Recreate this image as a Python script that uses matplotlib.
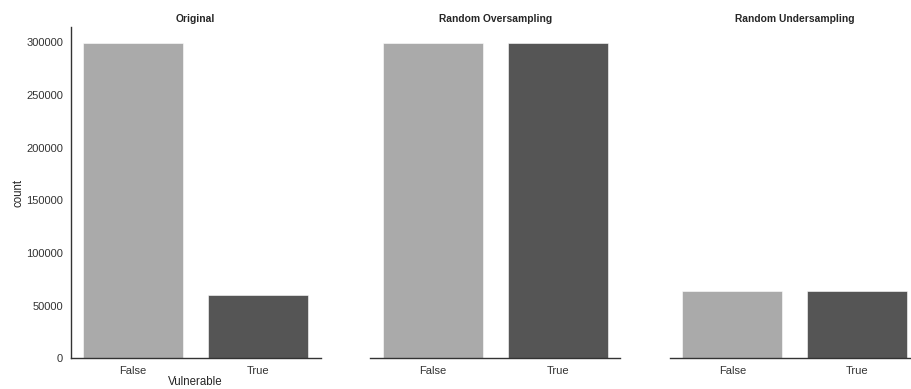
import matplotlib
matplotlib.use("Agg")
import matplotlib.pyplot as plt
import seaborn as sns

# counts per class
categories = ["False", "True"]
titles = ["Original", "Random Oversampling", "Random Undersampling"]
original_counts = [298800, 60500]
oversampled_counts = [298800, 298800]
undersampled_counts = [63600, 63600]
yticks = [0, 50000, 100000, 150000, 200000, 250000, 300000]

sns.set_style("white")
plt.rcParams['font.family'] = ['Liberation Sans', 'DejaVu Sans']

bar_colors = ["#aaaaaa", "#555555"]
text_col = "#262626"

fig = plt.figure(figsize=(9.12, 3.89), dpi=100)
lefts = [70.7 / 912, 370.2 / 912, 670.0 / 912]
bottom = 30.7 / 389
height = 331.6 / 389
width = 250 / 912

all_counts = [original_counts, oversampled_counts, undersampled_counts]
ymax = max(max(c) for c in all_counts) * 1.053

for i, (title, counts) in enumerate(zip(titles, all_counts)):
    ax = fig.add_axes([lefts[i], bottom, width, height])
    ax.bar(range(len(categories)), counts, width=0.8, color=bar_colors,
           edgecolor="white", linewidth=0.4)
    ax.set_xlim(-0.5, 1.5)
    ax.set_ylim(0, ymax)
    ax.set_xticks(range(len(categories)))
    ax.set_xticklabels(categories, fontsize=8, color="#333333")
    ax.set_title(title, fontsize=7.4, fontweight="bold", color=text_col, pad=3.5)
    ax.tick_params(axis="both", length=0, pad=5.5)
    for s in ["top", "right"]:
        ax.spines[s].set_visible(False)
    ax.spines["bottom"].set_color("#333333")
    ax.spines["bottom"].set_linewidth(1.0)
    if i == 0:
        ax.set_yticks(yticks)
        ax.set_yticklabels([str(t) for t in yticks], fontsize=8, color="#333333")
        ax.set_ylabel("count", fontsize=8.3, color=text_col, labelpad=1.5)
        ax.set_xlabel("Vulnerable", fontsize=8.3, color=text_col, labelpad=0.3)
        ax.spines["left"].set_color("#333333")
        ax.spines["left"].set_linewidth(1.0)
    else:
        ax.spines["left"].set_visible(False)
        ax.set_yticks([])

fig.savefig("out.png", dpi=100)
